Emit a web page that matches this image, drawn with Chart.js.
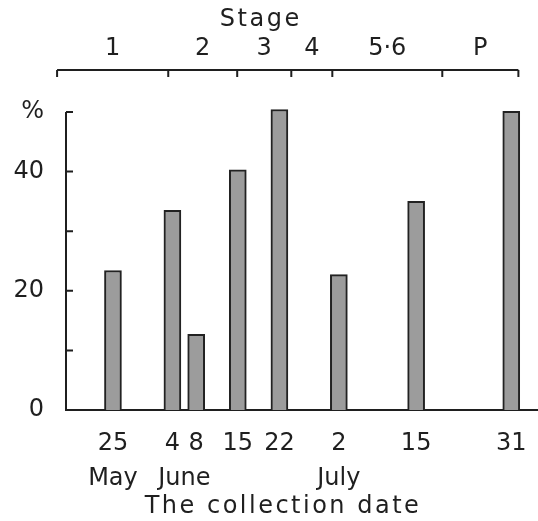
<!DOCTYPE html>
<html>
<head>
<meta charset="utf-8">
<script src="https://cdn.jsdelivr.net/npm/chart.js@4/dist/chart.umd.min.js"></script>
<style>
    html, body { margin: 0; padding: 0; background: #ffffff; }
    canvas { display: block; }
</style>
</head>
<body>
<canvas id="stageChart" width="538" height="521"></canvas>
<script>
// ─── Data ─────────────────────────────────────────────────────────────────────

// collection dates as days after 25 May
const collectionDays = [0, 10, 14, 21, 28, 38, 51, 67];
const dateLabels = ['25', '4', '8', '15', '22', '2', '15', '31'];
const percentValues = [23.4, 33.5, 12.7, 40.3, 50.4, 22.7, 35.0, 50.1];

const monthDays = [0, 12, 38];
const monthLabels = ['May', 'June', 'July'];

const yTicks = [0, 10, 20, 30, 40, 50];
const yTickLabels = ['0', '', '20', '', '40', '%'];

// stage brackets along the top, in the same day units
const stageEdges = [-9.4, 9.3, 20.9, 30, 36.9, 55.4, 68.2];
const stageLabels = ['1', '2', '3', '4', '5·6', 'P'];

// ─── Shared config ────────────────────────────────────────────────────────────

const ink = '#1f1f1f';
const font = { family: '"DejaVu Sans", sans-serif', size: 24 };

// pin a bottom axis to a fixed height, with no side padding
const pinHeight = h => s => {
    s.height = h;
    s.paddingLeft = 0;
    s.paddingRight = 0;
};

// ─── Drawing helpers ──────────────────────────────────────────────────────────

const axesAndStages = {
    id: 'axesAndStages',
    afterDraw(chart) {
        const { ctx, chartArea } = chart;
        const x = chart.scales.x;
        const y = chart.scales.y;
        ctx.save();
        ctx.strokeStyle = ink;
        ctx.fillStyle = ink;
        ctx.lineWidth = 2;

        // left axis, only up to 50, ticks pointing inward
        const left = chartArea.left;
        ctx.beginPath();
        ctx.moveTo(left, y.getPixelForValue(0));
        ctx.lineTo(left, y.getPixelForValue(yTicks[yTicks.length - 1]));
        yTicks.forEach(v => {
            const py = y.getPixelForValue(v);
            ctx.moveTo(left, py);
            ctx.lineTo(left + 7, py);
        });
        ctx.stroke();

        // stage bracket
        const lineY = 70;
        ctx.beginPath();
        ctx.moveTo(x.getPixelForValue(stageEdges[0]), lineY);
        ctx.lineTo(x.getPixelForValue(stageEdges[stageEdges.length - 1]), lineY);
        stageEdges.forEach(d => {
            const px = x.getPixelForValue(d);
            ctx.moveTo(px, lineY);
            ctx.lineTo(px, lineY + 7);
        });
        ctx.stroke();

        ctx.font = `${font.size}px ${font.family}`;
        ctx.textAlign = 'center';
        ctx.textBaseline = 'middle';
        stageLabels.forEach((label, i) => {
            const mid = (stageEdges[i] + stageEdges[i + 1]) / 2;
            ctx.fillText(label, x.getPixelForValue(mid), 49);
        });

        ctx.letterSpacing = '2.5px';
        ctx.fillText('Stage', x.getPixelForValue(24.7) + 1, 20);
        ctx.fillText('The collection date', 283, 507);
        ctx.restore();
    },
};

// ─── Chart ────────────────────────────────────────────────────────────────────

new Chart(document.getElementById('stageChart'), {
    type: 'bar',
    data: {
        datasets: [{
            data: collectionDays.map((d, i) => ({ x: d, y: percentValues[i] })),
            backgroundColor: '#9c9c9c',
            borderColor: '#222222',
            borderWidth: 2,
            barThickness: 17,
        }],
    },
    options: {
        responsive: false,
        animation: false,
        layout: { padding: { top: 100, right: 0, left: 0, bottom: 0 } },
        plugins: {
            legend: { display: false },
            tooltip: { enabled: false },
        },
        scales: {
            x: {
                type: 'linear',
                position: 'bottom',
                offset: false,
                min: -7.9,
                max: 71.5,
                grid: { display: false, drawTicks: false },
                border: { display: true, color: ink, width: 2 },
                afterBuildTicks: s => { s.ticks = collectionDays.map(v => ({ value: v })); },
                afterFit: pinHeight(45),
                ticks: {
                    autoSkip: false,
                    maxRotation: 0,
                    padding: 19,
                    color: ink,
                    font,
                    callback: (v, i) => dateLabels[i],
                },
            },
            xm: {
                type: 'linear',
                position: 'bottom',
                offset: false,
                min: -7.9,
                max: 71.5,
                grid: { display: false, drawTicks: false },
                border: { display: false },
                afterBuildTicks: s => { s.ticks = monthDays.map(v => ({ value: v })); },
                afterFit: pinHeight(66),
                ticks: {
                    autoSkip: false,
                    maxRotation: 0,
                    padding: 9,
                    color: ink,
                    font,
                    callback: (v, i) => monthLabels[i],
                },
            },
            y: {
                type: 'linear',
                min: 0,
                max: 52,
                grid: { display: false, drawTicks: false },
                border: { display: false },
                afterBuildTicks: s => { s.ticks = yTicks.map(v => ({ value: v })); },
                afterFit: s => { s.width = 66; },
                ticks: {
                    padding: 22,
                    color: ink,
                    font,
                    callback: (v, i) => yTickLabels[i],
                },
            },
        },
    },
    plugins: [axesAndStages],
});
</script>
</body>
</html>
